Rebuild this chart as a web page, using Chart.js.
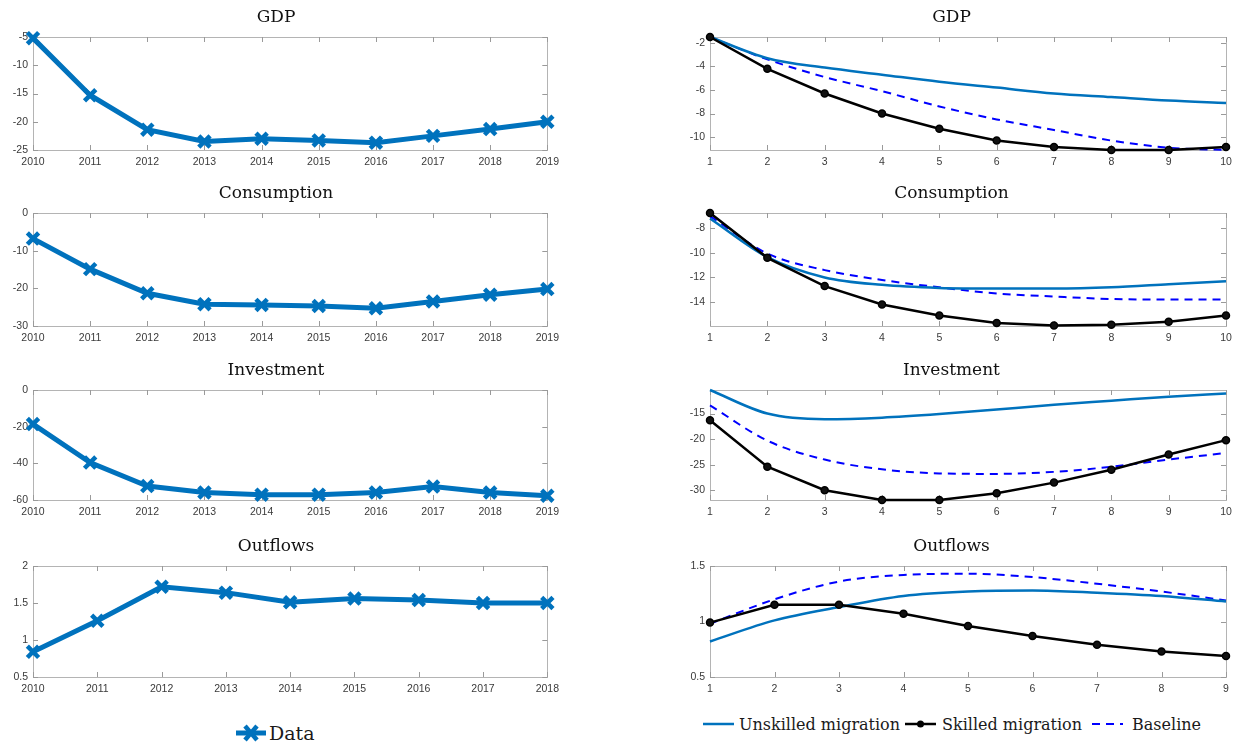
<!DOCTYPE html>
<html>
<head>
<meta charset="utf-8">
<script src="https://cdn.jsdelivr.net/npm/chart.js@4.4.1/dist/chart.umd.min.js"></script>
<style>
  body { margin: 0; background: #fff; width: 1240px; height: 747px; position: relative; overflow: hidden; }
  canvas { position: absolute; }
  .legend { position: absolute; display: flex; align-items: center; font-family: "DejaVu Serif", serif; color: #1a1a1a; white-space: nowrap; }
  .legend svg { display: block; }
</style>
</head>
<body>
<canvas id="gdpData"></canvas>
<canvas id="consData"></canvas>
<canvas id="invData"></canvas>
<canvas id="outData"></canvas>
<canvas id="gdpModel"></canvas>
<canvas id="consModel"></canvas>
<canvas id="invModel"></canvas>
<canvas id="outModel"></canvas>

<div class="legend" id="legendData" style="left:235px; top:721px; font-size:19px;">
  <svg width="32" height="24"><line x1="1" y1="12" x2="31" y2="12" stroke="#0072BD" stroke-width="5"/>
    <line x1="10" y1="5" x2="22" y2="19" stroke="#0072BD" stroke-width="4.5"/><line x1="22" y1="5" x2="10" y2="19" stroke="#0072BD" stroke-width="4.5"/></svg>
  <span style="margin-left:2px">Data</span>
</div>
<div class="legend" id="legendModel" style="left:702px; top:714px; font-size:16px;">
  <svg width="33" height="20"><line x1="1" y1="10" x2="32" y2="10" stroke="#0072BD" stroke-width="2.5"/></svg>
  <span style="margin-left:4px">Unskilled migration</span>
  <svg width="33" height="20" style="margin-left:4px"><line x1="1" y1="10" x2="32" y2="10" stroke="#000" stroke-width="2.5"/><circle cx="16.5" cy="10" r="3.5" fill="#000"/></svg>
  <span style="margin-left:5px">Skilled migration</span>
  <svg width="33" height="20" style="margin-left:9px"><line x1="1" y1="10" x2="32" y2="10" stroke="#0000FF" stroke-width="2" stroke-dasharray="8 6"/></svg>
  <span style="margin-left:8px">Baseline</span>
</div>

<script>
// Horizons
const years = [2010, 2011, 2012, 2013, 2014, 2015, 2016, 2017, 2018, 2019];
const yearsOutflows = [2010, 2011, 2012, 2013, 2014, 2015, 2016, 2017, 2018];
const periods = [1, 2, 3, 4, 5, 6, 7, 8, 9, 10];
const periodsOutflows = [1, 2, 3, 4, 5, 6, 7, 8, 9];

// Observed data (left column)
const dataGDP = [-5.2, -15.3, -21.4, -23.5, -23.0, -23.3, -23.7, -22.5, -21.3, -20.0];
const dataConsumption = [-6.8, -14.9, -21.3, -24.2, -24.4, -24.7, -25.3, -23.5, -21.7, -20.2];
const dataInvestment = [-18.6, -39.6, -52.4, -55.9, -57.1, -57.1, -55.9, -52.7, -55.9, -57.7];
const dataOutflows = [0.84, 1.26, 1.72, 1.64, 1.51, 1.56, 1.54, 1.50, 1.50];

// Model responses (right column)
const unskilledGDP = [-1.5, -3.3, -4.1, -4.7, -5.3, -5.8, -6.3, -6.6, -6.9, -7.1];
const skilledGDP = [-1.5, -4.2, -6.3, -8.0, -9.3, -10.3, -10.85, -11.1, -11.1, -10.85];
const baselineGDP = [-1.5, -3.4, -4.9, -6.1, -7.4, -8.5, -9.4, -10.3, -10.9, -11.1];

const unskilledConsumption = [-7.2, -10.35, -12.0, -12.6, -12.85, -12.9, -12.9, -12.8, -12.55, -12.3];
const skilledConsumption = [-6.75, -10.4, -12.7, -14.2, -15.1, -15.7, -15.9, -15.85, -15.6, -15.1];
const baselineConsumption = [-7.0, -10.05, -11.4, -12.2, -12.8, -13.3, -13.55, -13.75, -13.8, -13.8];

const unskilledInvestment = [-10.4, -15.0, -16.1, -15.8, -15.1, -14.2, -13.3, -12.5, -11.7, -11.1];
const skilledInvestment = [-16.3, -25.4, -30.0, -31.9, -31.9, -30.6, -28.5, -26.0, -23.0, -20.2];
const baselineInvestment = [-13.4, -20.3, -24.0, -25.9, -26.7, -26.8, -26.4, -25.4, -24.0, -22.7];

const unskilledOutflows = [0.82, 1.01, 1.13, 1.23, 1.27, 1.28, 1.26, 1.23, 1.18];
const skilledOutflows = [0.99, 1.15, 1.15, 1.07, 0.96, 0.87, 0.79, 0.73, 0.69];
const baselineOutflows = [0.98, 1.20, 1.36, 1.42, 1.43, 1.40, 1.34, 1.27, 1.19];

const BLUE = '#0072BD';
const TITLE_BLOCK = 37;
const XAXIS_H = 24;

// Axes box with inward tick marks, drawn beneath the series
const boxPlugin = {
  id: 'box',
  beforeDatasetsDraw(chart) {
    const { ctx, chartArea: a, scales } = chart;
    ctx.save();
    ctx.strokeStyle = '#b4b4b4';
    ctx.lineWidth = 1;
    ctx.strokeRect(Math.round(a.left) + 0.5, Math.round(a.top) + 0.5,
                   Math.round(a.right - a.left), Math.round(a.bottom - a.top));
    ctx.strokeStyle = '#9a9a9a';
    ctx.beginPath();
    scales.x.ticks.forEach(t => {
      const px = Math.round(scales.x.getPixelForValue(t.value)) + 0.5;
      ctx.moveTo(px, a.bottom); ctx.lineTo(px, a.bottom - 5);
      ctx.moveTo(px, a.top); ctx.lineTo(px, a.top + 5);
    });
    scales.y.ticks.forEach(t => {
      const py = Math.round(scales.y.getPixelForValue(t.value)) + 0.5;
      ctx.moveTo(a.left, py); ctx.lineTo(a.left + 5, py);
      ctx.moveTo(a.right, py); ctx.lineTo(a.right - 5, py);
    });
    ctx.stroke();
    ctx.restore();
  }
};

function dataSeries(xs, ys) {
  return [{
    data: xs.map((x, i) => ({ x, y: ys[i] })),
    borderColor: BLUE, borderWidth: 5,
    pointStyle: 'crossRot', pointRadius: 8, pointBorderWidth: 4.5,
    pointBorderColor: BLUE, pointBackgroundColor: BLUE,
    tension: 0, clip: false
  }];
}

function modelSeries(xs, unskilled, skilled, baseline) {
  const pts = ys => xs.map((x, i) => ({ x, y: ys[i] }));
  return [
    { data: pts(baseline), borderColor: '#0000FF', borderWidth: 2, borderDash: [8, 6],
      pointRadius: 0, cubicInterpolationMode: 'monotone', clip: false, order: 3 },
    { data: pts(unskilled), borderColor: BLUE, borderWidth: 2.5,
      pointRadius: 0, cubicInterpolationMode: 'monotone', clip: false, order: 2 },
    { data: pts(skilled), borderColor: '#000', borderWidth: 2.5,
      pointStyle: 'circle', pointRadius: 3.5, pointBorderWidth: 1.5,
      pointBorderColor: '#000', pointBackgroundColor: '#111', tension: 0, clip: false, order: 1 }
  ];
}

function panel(id, cfg) {
  const canvas = document.getElementById(id);
  const h = TITLE_BLOCK + cfg.plotH + XAXIS_H;
  canvas.width = cfg.width; canvas.height = h;
  canvas.style.left = cfg.left + 'px';
  canvas.style.top = (cfg.plotTop - TITLE_BLOCK) + 'px';
  const tickFont = { family: '"Liberation Sans", Arial, sans-serif', size: 10.5 };
  new Chart(canvas, {
    type: 'line',
    data: { datasets: cfg.datasets },
    options: {
      responsive: false, animation: false, devicePixelRatio: 1,
      layout: { padding: { left: 0, right: 13, top: 0, bottom: 0 } },
      plugins: {
        legend: { display: false },
        tooltip: { enabled: false },
        title: {
          display: true, text: cfg.title, color: '#111',
          font: { family: '"DejaVu Serif", serif', size: 17, weight: 'normal', lineHeight: 1.2 },
          padding: { top: 7, bottom: 9.6 }
        }
      },
      scales: {
        x: {
          type: 'linear', min: cfg.xMin, max: cfg.xMax,
          grid: { display: false, drawTicks: false }, border: { display: false },
          ticks: { stepSize: 1, autoSkip: false, maxRotation: 0, padding: 6,
                   color: '#3a3a3a', font: tickFont, callback: v => String(v) },
          afterFit: s => { s.height = XAXIS_H; }
        },
        y: {
          type: 'linear', min: cfg.yMin, max: cfg.yMax,
          grid: { display: false, drawTicks: false }, border: { display: false },
          ticks: { stepSize: cfg.yStep, includeBounds: false, padding: 5,
                   color: '#3a3a3a', font: tickFont, callback: v => String(v) },
          afterFit: s => { s.width = 33; }
        }
      }
    },
    plugins: [boxPlugin]
  });
}

const LEFT = { left: 0, width: 565 };
const RIGHT = { left: 677, width: 562 };
const rows = [
  { plotTop: 37, plotH: 113 },
  { plotTop: 213, plotH: 113 },
  { plotTop: 390, plotH: 110 },
  { plotTop: 566, plotH: 111 }
];

panel('gdpData', { ...LEFT, ...rows[0], title: 'GDP', xMin: 2010, xMax: 2019,
  yMin: -25, yMax: -5, yStep: 5, datasets: dataSeries(years, dataGDP) });
panel('consData', { ...LEFT, ...rows[1], title: 'Consumption', xMin: 2010, xMax: 2019,
  yMin: -30, yMax: 0, yStep: 10, datasets: dataSeries(years, dataConsumption) });
panel('invData', { ...LEFT, ...rows[2], title: 'Investment', xMin: 2010, xMax: 2019,
  yMin: -60, yMax: 0, yStep: 20, datasets: dataSeries(years, dataInvestment) });
panel('outData', { ...LEFT, ...rows[3], title: 'Outflows', xMin: 2010, xMax: 2018,
  yMin: 0.5, yMax: 2, yStep: 0.5, datasets: dataSeries(yearsOutflows, dataOutflows) });

panel('gdpModel', { ...RIGHT, ...rows[0], title: 'GDP', xMin: 1, xMax: 10,
  yMin: -11.1, yMax: -1.5, yStep: 2,
  datasets: modelSeries(periods, unskilledGDP, skilledGDP, baselineGDP) });
panel('consModel', { ...RIGHT, ...rows[1], title: 'Consumption', xMin: 1, xMax: 10,
  yMin: -15.95, yMax: -6.75, yStep: 2,
  datasets: modelSeries(periods, unskilledConsumption, skilledConsumption, baselineConsumption) });
panel('invModel', { ...RIGHT, ...rows[2], title: 'Investment', xMin: 1, xMax: 10,
  yMin: -31.9, yMax: -10.4, yStep: 5,
  datasets: modelSeries(periods, unskilledInvestment, skilledInvestment, baselineInvestment) });
panel('outModel', { ...RIGHT, ...rows[3], title: 'Outflows', xMin: 1, xMax: 9,
  yMin: 0.5, yMax: 1.5, yStep: 0.5,
  datasets: modelSeries(periodsOutflows, unskilledOutflows, skilledOutflows, baselineOutflows) });
</script>
</body>
</html>
